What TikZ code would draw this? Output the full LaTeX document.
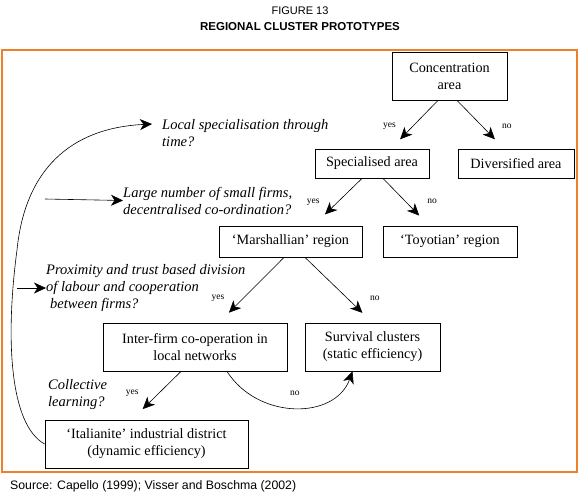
\documentclass[tikz,border=0pt]{standalone}
\usepackage{fontspec}
\setmainfont{Liberation Serif}
\newfontfamily\capfont{Liberation Sans}
\usetikzlibrary{arrows.meta,positioning}
\definecolor{frameorange}{RGB}{238,128,42}

\begin{document}
\begin{tikzpicture}[x=1pt, y=-1pt, >={Stealth[length=12pt,width=11pt,inset=3.5pt]},
  box/.style={rectangle, draw, line width=0.8pt, align=center, inner sep=0pt, font=\fontsize{14.2}{17}\selectfont},
  question/.style={align=left, inner sep=0pt, font=\fontsize{14.5}{17}\selectfont\itshape},
  answer/.style={font=\fontsize{9.5}{10}\selectfont, inner sep=0pt},
  link/.style={->, line width=0.6pt}]
  \useasboundingbox (0,0) rectangle (580,496);
  % Title, frame and source
  \node[font=\capfont\fontsize{11}{13}\selectfont] (fig) at (300,11) {FIGURE 13};
  \node[font=\capfont\bfseries\fontsize{11.5}{13}\selectfont] (title) at (300,27) {REGIONAL CLUSTER PROTOTYPES};
  \draw[frameorange, line width=1.5pt] (2,50) rectangle (577,472);
  \node[font=\capfont\fontsize{12.3}{14}\selectfont, anchor=west, inner sep=0pt] (source) at (10,486) {Source: Capello (1999); Visser and Boschma (2002)};

  % Boxes
  \node[box, minimum width=115, minimum height=48] (conc) at (449.5,76) {Concentration\\area};
  \node[box, minimum width=114, minimum height=29] (spec) at (372,163.5) {Specialised area};
  \node[box, minimum width=116, minimum height=29, right of=spec, node distance=144pt] (div) {Diversified area};
  \node[box, minimum width=143, minimum height=31] (marsh) at (290.5,241.5) {`Marshallian' region};
  \node[box, minimum width=134, minimum height=31, right of=marsh, node distance=159.5pt] (toy) {`Toyotian' region};
  \node[box, minimum width=184, minimum height=48] (inter) at (195,347) {Inter-firm co-operation in\\local networks};
  \node[box, minimum width=135, minimum height=48, right of=inter, node distance=177.5pt] (surv) {Survival clusters\\(static efficiency)};
  \node[box, minimum width=203, minimum height=48] (ital) at (146.5,444) {`Italianite' industrial district\\(dynamic efficiency)};

  % Questions
  \node[question, anchor=west] (q1) at (162,133.5) {Local specialisation through\\time?};
  \node[question, anchor=west] (q2) at (123,200.5) {Large number of small firms,\\decentralised co-ordination?};
  \node[question, anchor=west] (q3) at (46,288) {Proximity and trust based division\\of labour and cooperation\\\hspace{4pt}between firms?};
  \node[question, anchor=west] (q4) at (48,394.5) {Collective\\learning?};

  % Draw edges
  \draw[link, shorten >=13pt] ([xshift=-11.5pt]conc.south) -- node[answer, pos=.53, left=17pt] {yes} ([xshift=19pt]spec.north);
  \draw[link, shorten >=13pt] ([xshift=7.5pt]conc.south) -- node[answer, pos=.53, right=20pt] {no} ([xshift=-12pt]div.north);
  \draw[link, shorten >=16pt] ([xshift=-10pt]spec.south) -- node[answer, pos=.5, left=18pt] {yes} ([xshift=23pt]marsh.north);
  \draw[link, shorten >=14pt] ([xshift=11pt]spec.south) -- node[answer, pos=.48, right=22pt] {no} ([xshift=-21pt]toy.north);
  \draw[link, shorten >=14pt] ([xshift=-6.5pt]marsh.south) -- node[answer, pos=.62, left=19pt] {yes} ([xshift=24pt]inter.north);
  \draw[link, shorten >=14pt] ([xshift=14.5pt]marsh.south) -- node[answer, pos=.62, right=23pt] {no} (surv.north);
  \draw[link, shorten >=15pt] ([xshift=-14pt]inter.south) -- node[answer, pos=.45, left=20pt] {yes} ([xshift=-14.5pt]ital.north);
  \draw[link] ([xshift=32pt]inter.south) .. controls (258,420) and (335,420) .. node[answer, pos=.5, above=12pt] {no} ([xshift=-20pt]surv.south);
  \coordinate (tail2) at (45,199);
  \coordinate (tail3) at (17,288);
  \draw[link] (tail2) -- (q2.west);
  \draw[link] (tail3) -- (q3.west);
  \draw[link] (ital.west) .. controls (10,425) and (5,340) .. (17,250) .. controls (25,170) and (70,128) .. ([xshift=-10pt,yshift=9.5pt]q1.west);
\end{tikzpicture}
\end{document}
